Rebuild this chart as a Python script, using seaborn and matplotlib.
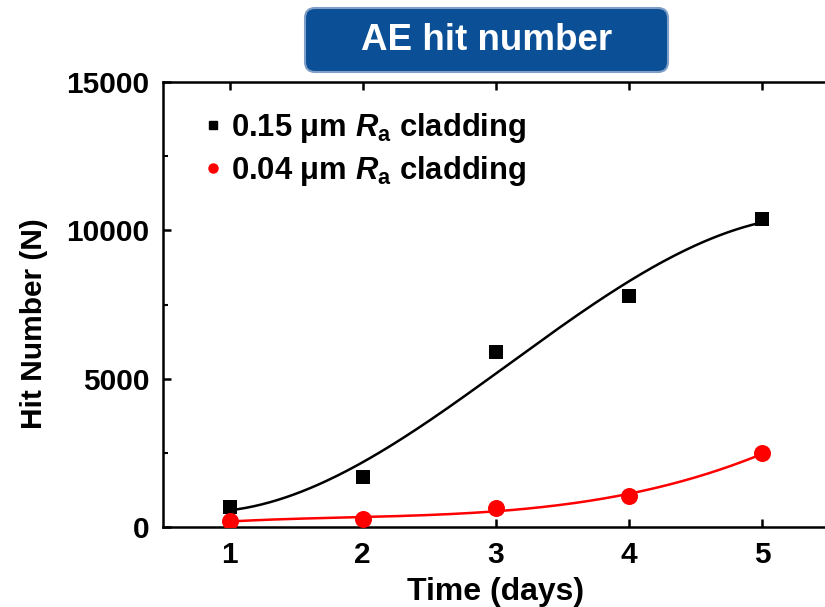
import numpy as np
import matplotlib
matplotlib.use('Agg')
import matplotlib.pyplot as plt
from matplotlib.lines import Line2D
from matplotlib.patches import FancyBboxPatch
from matplotlib.ticker import MultipleLocator
import seaborn as sns

# Data
days = [1, 2, 3, 4, 5]
hits_rough = [685, 1696, 5910, 7797, 10393]    # 0.15 um Ra cladding
hits_smooth = [202, 270, 629, 1056, 2483]      # 0.04 um Ra cladding

x_ticks = [1, 2, 3, 4, 5]
y_ticks = [0, 5000, 10000, 15000]

label_rough = r'0.15 μm $R_\mathrm{a}$ cladding'
label_smooth = r'0.04 μm $R_\mathrm{a}$ cladding'
title_text = 'AE hit number'

sns.set_style('ticks')
plt.rcParams['font.family'] = ['Liberation Sans', 'DejaVu Sans']
plt.rcParams['font.weight'] = 'bold'
plt.rcParams['axes.labelweight'] = 'bold'
plt.rcParams['text.color'] = 'black'
plt.rcParams['axes.labelcolor'] = 'black'
plt.rcParams['xtick.color'] = 'black'
plt.rcParams['ytick.color'] = 'black'
plt.rcParams['mathtext.fontset'] = 'custom'
plt.rcParams['mathtext.rm'] = 'Liberation Sans:bold'
plt.rcParams['mathtext.it'] = 'Liberation Sans:italic:bold'
plt.rcParams['mathtext.bf'] = 'Liberation Sans:bold'

fig = plt.figure(figsize=(8.25, 6.07), dpi=100)
ax = fig.add_axes([163 / 825, 1 - 527 / 607, 666 / 825, 445 / 607])

# cubic fit curves through the measured points
fit_x = np.linspace(days[0], days[-1], 200)
fit_rough = np.polyval(np.polyfit(days, hits_rough, 3), fit_x)
fit_smooth = np.polyval(np.polyfit(days, hits_smooth, 3), fit_x)

sns.lineplot(x=fit_x, y=fit_rough, ax=ax, color='black', lw=1.8, sort=False, estimator=None)
sns.lineplot(x=fit_x, y=fit_smooth, ax=ax, color='#ff0000', lw=1.8, sort=False, estimator=None)
sns.scatterplot(x=days, y=hits_rough, ax=ax, marker='s', s=110, color='black', edgecolor='black', linewidth=0, zorder=3)
sns.scatterplot(x=days, y=hits_smooth, ax=ax, marker='o', s=150, color='#ff0000', edgecolor='#ff0000', linewidth=0, zorder=3)

ax.set_xlim(0.5, 5.5)
ax.set_ylim(0, 15000)
ax.set_xticks(x_ticks)
ax.set_yticks(y_ticks)
ax.yaxis.set_minor_locator(MultipleLocator(2500))
ax.tick_params(which='major', direction='in', length=6, width=1.8, top=True, right=False,
               labelsize=21.5, pad=10)
ax.tick_params(which='minor', axis='y', direction='in', length=3.5, width=1.5, right=False)
for sp in ax.spines.values():
    sp.set_linewidth(1.8)
    sp.set_color('black')

ax.set_xlabel('Time (days)', fontsize=23, fontweight='bold', labelpad=6)
ax.set_ylabel('Hit Number (N)', fontsize=21.5, fontweight='bold')
ax.yaxis.set_label_coords(-0.172, 0.456)

handles = [Line2D([], [], marker='s', color='black', ls='none', markersize=5.5),
           Line2D([], [], marker='o', color='#ff0000', ls='none', markersize=6.5)]
leg = ax.legend(handles, [label_rough, label_smooth], loc='upper left',
                bbox_to_anchor=(42 / 666, (527 - 111) / 445), frameon=False,
                fontsize=22.3, handlelength=0.5, handletextpad=0.35, labelspacing=0.3,
                borderpad=0, borderaxespad=0)

# title box
box = FancyBboxPatch((305, 607 - 72), 363, 64, boxstyle='round,pad=0,rounding_size=10',
                     transform=None, facecolor='#0b4f96', edgecolor='#7f9fc8', lw=1.5)
fig.patches.append(box)
fig.text(487 / 825, 1 - 40 / 607, title_text, color='white', fontsize=26.5, fontweight='bold',
         ha='center', va='center')

fig.savefig('out.png', dpi=100)
